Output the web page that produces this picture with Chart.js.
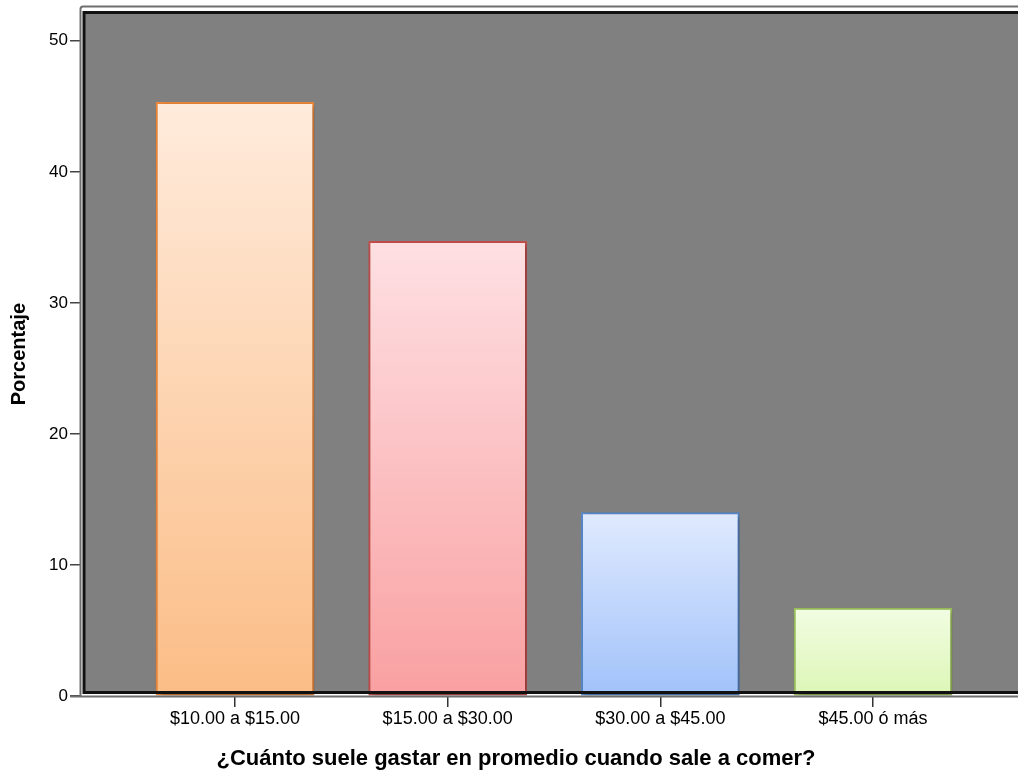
<!DOCTYPE html>
<html>
<head>
<meta charset="utf-8">
<title>Gasto promedio al salir a comer</title>
<script src="https://cdn.jsdelivr.net/npm/chart.js@4/dist/chart.umd.min.js"></script>
<style>
  html, body { margin: 0; padding: 0; background: #fff; }
  #wrap { width: 1018px; height: 774px; }
</style>
</head>
<body>
<div id="wrap"><canvas id="myChart" width="1018" height="774"></canvas></div>
<script>
'use strict';

// data
var categories = ['$10.00 a $15.00', '$15.00 a $30.00', '$30.00 a $45.00', '$45.00 ó más'];
var percentages = [45.3, 34.7, 14.0, 6.7];
var yTicks = [0, 10, 20, 30, 40, 50];

// bar colours (gradient top -> bottom, outline)
var topColors = ['#ffebdc', '#fee0e3', '#e0eafe', '#f2fde2'];
var bottomColors = ['#fbbd86', '#f9a0a1', '#a1c2fa', '#dcf6b6'];
var borderColors = ['#f0893a', '#c9504e', '#5a8dd0', '#9cc15a'];

var font = 'Liberation Sans, Arial, sans-serif';

// gray plot background, drawn before the scales
var plotBackground = {
  id: 'plotBackground',
  beforeDraw: function(chart) {
    var ctx = chart.ctx;
    ctx.save();
    ctx.fillStyle = '#fff';
    ctx.fillRect(0, 0, chart.width, chart.height);
    ctx.fillStyle = '#808080';
    ctx.fillRect(84, 12, chart.width - 84, 680);
    ctx.restore();
  }
};

// soft shadow under the bars + black/gray frame on top
var barShadow = {
  id: 'barShadow',
  beforeDatasetsDraw: function(chart) {
    var ctx = chart.ctx;
    ctx.save();
    ctx.shadowColor = 'rgba(0,0,0,0.35)';
    ctx.shadowBlur = 6;
    ctx.shadowOffsetX = 2;
    ctx.shadowOffsetY = 2;
  },
  afterDatasetsDraw: function(chart) {
    var ctx = chart.ctx;
    ctx.restore();
    ctx.save();
    // outer gray frame
    ctx.strokeStyle = '#6e6e6e';
    ctx.lineWidth = 2;
    ctx.beginPath();
    ctx.moveTo(80.5, 696);
    ctx.lineTo(80.5, 9);
    ctx.quadraticCurveTo(80.5, 6.5, 83, 6.5);
    ctx.lineTo(chart.width, 6.5);
    ctx.moveTo(70, 696.5);
    ctx.lineTo(chart.width, 696.5);
    ctx.stroke();
    // inner black frame
    ctx.strokeStyle = '#111';
    ctx.lineWidth = 3;
    ctx.beginPath();
    ctx.moveTo(chart.width, 12.5);
    ctx.lineTo(84, 12.5);
    ctx.lineTo(84, 692.5);
    ctx.lineTo(chart.width, 692.5);
    ctx.stroke();
    ctx.restore();
  }
};

var ctx = document.getElementById('myChart').getContext('2d');
var chart = new Chart(ctx, {
  type: 'bar',
  data: {
    datasets: [{
      data: percentages.map(function(v, i) { return { x: i, y: v }; }),
      barThickness: 158,
      borderWidth: 2,
      borderSkipped: false,
      clip: false,
      borderColor: borderColors,
      backgroundColor: function(context) {
        var c = context.chart;
        var i = context.dataIndex;
        if (!c.chartArea || i === undefined) return bottomColors[0];
        var y = c.scales.y;
        var g = c.ctx.createLinearGradient(0, y.getPixelForValue(percentages[i]), 0, y.getPixelForValue(0));
        g.addColorStop(0, topColors[i]);
        g.addColorStop(1, bottomColors[i]);
        return g;
      }
    }]
  },
  options: {
    responsive: false,
    animation: false,
    devicePixelRatio: 1,
    // right padding keeps the axis title centred like the original layout
    layout: { padding: { left: 0, top: 0, bottom: 0, right: 66 } },
    plugins: {
      legend: { display: false },
      tooltip: { enabled: false }
    },
    scales: {
      x: {
        type: 'linear',
        offset: false,
        min: -0.729,
        max: 3.3715,
        afterFit: function(scale) { scale.height = 78; },
        afterBuildTicks: function(scale) {
          scale.ticks = categories.map(function(c, i) { return { value: i }; });
        },
        border: { display: false },
        grid: { offset: false, drawOnChartArea: false, tickLength: 11, color: '#333', lineWidth: 1.5 },
        ticks: {
          autoSkip: false,
          maxRotation: 0,
          padding: 1,
          color: '#000',
          font: { family: font, size: 18 },
          callback: function(value, index) { return categories[index]; }
        },
        title: {
          display: true,
          text: '¿Cuánto suele gastar en promedio cuando sale a comer?',
          color: '#000',
          font: { family: font, size: 22, weight: 'bold' },
          padding: { top: 0, bottom: 2 }
        }
      },
      y: {
        min: 0,
        max: 52.18,
        afterFit: function(scale) { scale.width = 80; },
        afterBuildTicks: function(scale) {
          scale.ticks = yTicks.map(function(v) { return { value: v }; });
        },
        border: { display: false },
        grid: { drawOnChartArea: false, tickLength: 10, color: '#444', lineWidth: 1.5 },
        ticks: {
          padding: 2,
          color: '#000',
          font: { family: font, size: 17 }
        },
        title: {
          display: true,
          text: 'Porcentaje',
          color: '#000',
          font: { family: font, size: 20, weight: 'bold' },
          padding: { top: 7, bottom: 0 }
        }
      }
    }
  },
  plugins: [plotBackground, barShadow]
});
</script>
</body>
</html>
